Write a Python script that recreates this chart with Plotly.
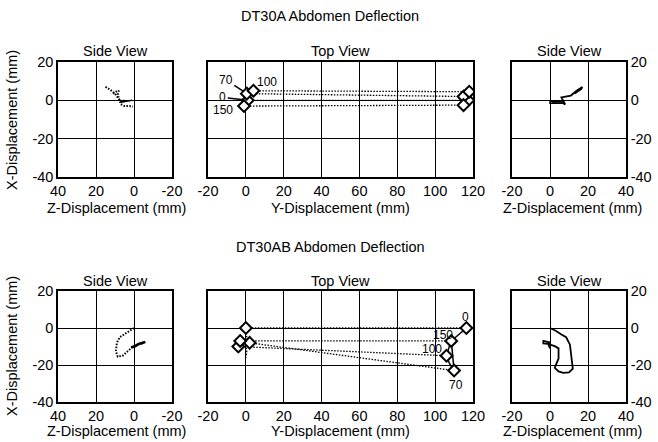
import plotly.graph_objects as go

W, H = 658, 442
FONT = "Liberation Sans, Arial, Helvetica, sans-serif"

# ---------------- DT30A ----------------
# Side view (left), Z vs X displacement, mm
a_side1_dot_z = [15, 12.5, 10, 8.5, 7.5, 7, 5, 2.5, 0.5]
a_side1_dot_x = [7, 5.5, 3.5, 1.5, 0, -2, -3, -3, -3.2]
a_side1_dot2_z = [11, 9.5, 8, 8.5, 8, 7.5]
a_side1_dot2_x = [3.5, 4.5, 5, 3, 1, -1]
a_side1_sol_z = [8, 6.5, 5, 7, 4, 1]
a_side1_sol_x = [0.5, -0.5, 0, -1, -0.5, 0]

# Top view: Y vs X displacement of the two targets at 0, 70, 100, 150 ms
a_times = ["0", "70", "100", "150"]
a_near_y = [1, 0.5, 4, -1]
a_near_x = [0, 3.5, 5, -3]
a_far_y = [117.5, 115, 118, 115]
a_far_x = [0, 2, 4.5, -2.5]

# Side view (right), Z vs X displacement, mm
a_side2_z = [0, 3, 7, 8, 6, 8, 11, 14, 17, 16.5, 14.5, 13]
a_side2_x = [0, -1.5, -1.5, -2.2, 1.5, 2, 2.5, 5, 7, 6, 4.5, 3.5]
a_side2_box_z = [0, 7, 7, 0, 0]
a_side2_box_x = [-0.5, -0.5, -1.5, -1.5, -0.5]

# ---------------- DT30AB ----------------
b_side1_dot_z = [0, 4, 7.5, 9, 9.5, 9, 8.5, 6, 3, 1]
b_side1_dot_x = [0, -2.5, -5, -8, -12, -14.5, -15.5, -15, -12.5, -10.5]
b_side1_sol_z = [1.5, -1, 0.5, -2, 0, -3, -1.5, -5, -3.5, -6]
b_side1_sol_x = [-10.5, -9.5, -10.5, -9, -10, -8.5, -9, -7.8, -8.5, -7.5]

b_times = ["0", "70", "100", "150"]
b_near_y = [0, 2, -4, -3]
b_near_x = [0, -8, -10, -7]
b_far_y = [116.5, 110, 106, 108.5]
b_far_x = [0, -23, -15, -7]
b_far_path_y = [116.5, 112, 108.5, 109, 109.5, 110, 107.5, 106, 107.5, 108.5]
b_far_path_x = [0, -4, -7, -12, -18, -23, -19, -15, -10, -7]
b_near_trail_y = [0, 0.5, 0, 0.5, 0]
b_near_trail_x = [-1, -5, -9, -13, -16]

b_side2_z = [0, 3, 6, 8.5, 10.5, 11, 11.5, 12, 10, 7, 4.5, 2.5, 3.5, 4.5, 4.5, 2.5, 0, 0, -3.5, -3.5, -1, 0]
b_side2_x = [0, -1.5, -3.5, -5, -9, -13, -17, -22, -24, -24.3, -23.5, -21.5, -19, -16.5, -11, -9.8, -9, -7.8, -7, -8.3, -8.5, -11]

# Axis ticks (printed with a plain hyphen)
disp_ticks = [-40, -20, 0, 20]
y_ticks = [-20, 0, 20, 40, 60, 80, 100, 120]
side_z_ticks = [-20, 0, 20, 40]
AX_RANGE = [-40, 20]


def tick_text(vals):
    return [str(v) for v in vals]


def px_to_paper_x(px):
    return px / W


def px_to_paper_y(py):
    return 1 - py / H


fig = go.Figure()

BLACK = "black"
DOTS = "1.5px,1.5px"


def line_trace(x, y, xa, ya, dash="solid", width=1.5):
    fig.add_trace(go.Scatter(x=x, y=y, mode="lines", xaxis=xa, yaxis=ya,
                             line=dict(color=BLACK, width=width, dash=dash),
                             showlegend=False, hoverinfo="skip"))


def diamond_trace(x, y, xa, ya):
    fig.add_trace(go.Scatter(x=x, y=y, mode="markers", xaxis=xa, yaxis=ya,
                             marker=dict(symbol="diamond", size=9, color="white",
                                         line=dict(color=BLACK, width=2)),
                             showlegend=False, hoverinfo="skip"))


# --- DT30A panels ---
line_trace(a_side1_dot_z, a_side1_dot_x, "x", "y", dash=DOTS, width=2)
line_trace(a_side1_dot2_z, a_side1_dot2_x, "x", "y", dash=DOTS, width=2)
line_trace(a_side1_sol_z, a_side1_sol_x, "x", "y", width=1.5)

for i in range(len(a_times)):
    line_trace([a_near_y[i], a_far_y[i]], [a_near_x[i], a_far_x[i]], "x2", "y2", dash=DOTS, width=1.3)
line_trace(a_near_y, a_near_x, "x2", "y2", width=1.5)
line_trace(a_far_y, a_far_x, "x2", "y2", width=1.5)
diamond_trace(a_near_y, a_near_x, "x2", "y2")
diamond_trace(a_far_y, a_far_x, "x2", "y2")

line_trace(a_side2_z, a_side2_x, "x3", "y3", width=1.8)
line_trace(a_side2_box_z, a_side2_box_x, "x3", "y3", width=1.5)

# --- DT30AB panels ---
line_trace(b_side1_dot_z, b_side1_dot_x, "x4", "y4", dash=DOTS, width=2)
line_trace(b_side1_sol_z, b_side1_sol_x, "x4", "y4", width=2.5)

for i in range(len(b_times)):
    line_trace([b_near_y[i], b_far_y[i]], [b_near_x[i], b_far_x[i]], "x5", "y5", dash=DOTS, width=1.3)
line_trace(b_near_trail_y, b_near_trail_x, "x5", "y5", dash=DOTS, width=1.3)
line_trace(b_far_path_y, b_far_path_x, "x5", "y5", width=1.5)
diamond_trace(b_near_y, b_near_x, "x5", "y5")
diamond_trace(b_far_y, b_far_x, "x5", "y5")

line_trace(b_side2_z, b_side2_x, "x6", "y6", width=1.8)

# --- axes ---
tickfont = dict(family=FONT, size=14.5, color=BLACK)


def make_x(dom, rng, anchor, ticks):
    return dict(domain=[px_to_paper_x(dom[0]), px_to_paper_x(dom[1])], range=rng,
                anchor=anchor, tickmode="array", tickvals=ticks, ticktext=tick_text(ticks),
                showgrid=True, gridcolor=BLACK, gridwidth=1, zeroline=False,
                showline=True, mirror=True, linecolor=BLACK, linewidth=1.5,
                ticks="", tickfont=tickfont, automargin=False, fixedrange=True)


def make_y(dom, anchor, side="left", labels=True):
    return dict(domain=[px_to_paper_y(dom[1]), px_to_paper_y(dom[0])], range=AX_RANGE,
                anchor=anchor, side=side, tickmode="array", tickvals=disp_ticks,
                ticktext=tick_text(disp_ticks), showgrid=True, gridcolor=BLACK,
                gridwidth=1, zeroline=False, showline=True, mirror=True,
                linecolor=BLACK, linewidth=1.5, ticks="", showticklabels=labels,
                tickfont=tickfont, automargin=False, fixedrange=True)


top_rows = (62, 177)
bot_rows = (291, 402)
cols = [(58, 172), (208, 473), (512, 626)]
ranges = [[40, -20], [-20, 120], [-20, 40]]
col_ticks = [disp_ticks[1:] + [40], y_ticks, side_z_ticks]

layout_axes = {}
n = 1
for rows in (top_rows, bot_rows):
    for c in range(3):
        xa = "xaxis" if n == 1 else f"xaxis{n}"
        ya = "yaxis" if n == 1 else f"yaxis{n}"
        ancx = "x" if n == 1 else f"x{n}"
        ancy = "y" if n == 1 else f"y{n}"
        layout_axes[xa] = make_x(cols[c], ranges[c], ancy, col_ticks[c])
        if c == 0:
            layout_axes[ya] = make_y(rows, ancx, "left", True)
        elif c == 1:
            layout_axes[ya] = make_y(rows, ancx, "left", False)
        else:
            layout_axes[ya] = make_y(rows, ancx, "right", True)
        n += 1

annotations = []


def text(px, py, s, size=14.5, angle=0):
    annotations.append(dict(x=px_to_paper_x(px), y=px_to_paper_y(py), xref="paper",
                            yref="paper", text=s, showarrow=False, textangle=angle,
                            xanchor="center", yanchor="middle",
                            font=dict(family=FONT, size=size, color=BLACK)))


text(330, 16, "DT30A Abdomen Deflection")
text(330, 247, "DT30AB Abdomen Deflection")
for base in (51, 281):
    text(115, base, "Side View")
    text(340, base, "Top View")
    text(569, base, "Side View")
for base_y, title_y in ((120, 208), (346, 431)):
    text(12, base_y, "X-Displacement (mm)", angle=-90)
    text(116, title_y, "Z-Displacement (mm)")
    text(340, title_y, "Y-Displacement (mm)")
    text(572, title_y, "Z-Displacement (mm)")


# time labels on the top-view diamonds
def time_label(xa, ya, xv, yv, s, ax, ay, arrow):
    d = dict(x=xv, y=yv, xref=xa, yref=ya, text=s,
             font=dict(family=FONT, size=12, color=BLACK))
    if arrow:
        d.update(showarrow=True, arrowhead=0, arrowwidth=1.5, arrowcolor=BLACK,
                 ax=ax, ay=ay, standoff=4)
    else:
        d.update(showarrow=False, xshift=ax, yshift=-ay)
    annotations.append(d)


a_label_offsets = {"0": (-25, -3, True), "70": (-21, -14, True),
                   "100": (14, -9, False), "150": (-21, 4, False)}
for i, t in enumerate(a_times):
    ax, ay, arrow = a_label_offsets[t]
    time_label("x2", "y2", a_near_y[i], a_near_x[i], t, ax, ay, arrow)

b_label_offsets = {"0": (-1, -11, False), "150": (-8, -6, False),
                   "100": (-15, -7, False), "70": (2, 14, False)}
for i, t in enumerate(b_times):
    ax, ay, arrow = b_label_offsets[t]
    time_label("x5", "y5", b_far_y[i], b_far_x[i], t, ax, ay, arrow)

fig.update_layout(width=W, height=H, margin=dict(l=0, r=0, t=0, b=0, autoexpand=False),
                  paper_bgcolor="white", plot_bgcolor="white",
                  font=dict(family=FONT, color=BLACK), showlegend=False,
                  annotations=annotations, **layout_axes)

fig.write_html("out.html", config={"displayModeBar": False})
